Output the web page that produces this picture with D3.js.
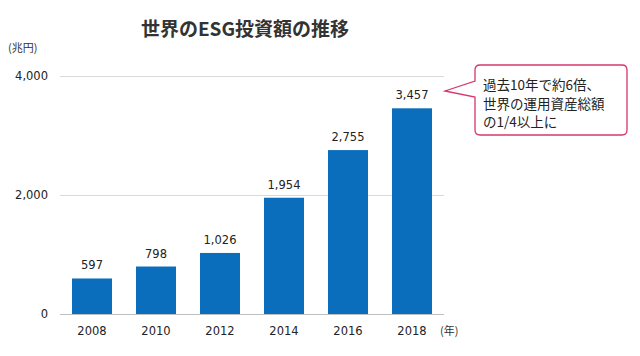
<!DOCTYPE html>
<html><head><meta charset="utf-8">
<script src="https://cdn.jsdelivr.net/npm/d3@7"></script>
<style>body{margin:0;background:#fff}svg{display:block;font-family:"Noto Sans CJK JP","Noto Sans",sans-serif}</style>
</head><body><svg id="c" width="640" height="356"></svg>
<script>
const years = ["2008","2010","2012","2014","2016","2018"];
const values = [597, 798, 1026, 1954, 2755, 3457];
const yTicks = [0, 2000, 4000];
const title = "世界のESG投資額の推移";
const calloutLines = ["過去10年で約6倍、","世界の運用資産総額","の1/4以上に"];

const svg = d3.select("#c");
const numFont = "'DejaVu Sans', Verdana, sans-serif";
const x = d3.scaleBand().domain(years).range([60, 444]).paddingInner(0.375).paddingOuter(0.1875);
const y = d3.scaleLinear().domain([0, 4000]).range([314, 76]);
const fmt = d3.format(",");

svg.append("text").attr("x", 245).attr("y", 36).attr("text-anchor", "middle")
  .attr("font-size", 19).attr("font-weight", "bold").attr("fill", "#333").text(title);
svg.append("text").attr("x", 8).attr("y", 52).attr("font-size", 11).attr("fill", "#333").text("(兆円)");

svg.append("g").selectAll("line").data(yTicks.filter(d => d > 0)).join("line")
  .attr("x1", 60).attr("x2", 444).attr("y1", d => y(d) + 0.5).attr("y2", d => y(d) + 0.5)
  .attr("stroke", "#d9d9d9").attr("stroke-width", 1);

svg.append("g").selectAll("text").data(yTicks).join("text")
  .attr("x", 48).attr("y", d => y(d) + 4).attr("text-anchor", "end")
  .attr("font-size", 11.5).attr("fill", "#222").attr("font-family", numFont)
  .text(d => fmt(d));

svg.append("g").selectAll("rect").data(values).join("rect")
  .attr("x", (d, i) => x(years[i])).attr("width", x.bandwidth())
  .attr("y", d => y(d)).attr("height", d => y(0) - y(d)).attr("fill", "#0a6ebd");

svg.append("line").attr("x1", 60).attr("x2", 444).attr("y1", 314.5).attr("y2", 314.5)
  .attr("stroke", "#bfbfbf");

svg.append("g").selectAll("text").data(values).join("text")
  .attr("x", (d, i) => x(years[i]) + x.bandwidth() / 2).attr("y", d => y(d) - 9)
  .attr("text-anchor", "middle").attr("font-size", 11.5).attr("fill", "#222")
  .attr("font-family", numFont).text(d => fmt(d));

svg.append("g").selectAll("text").data(years).join("text")
  .attr("x", d => x(d) + x.bandwidth() / 2).attr("y", 335).attr("text-anchor", "middle")
  .attr("font-size", 11.5).attr("fill", "#222").attr("font-family", numFont).text(d => d);
svg.append("text").attr("x", 440).attr("y", 335).attr("font-size", 11).attr("fill", "#333").text("(年)");

// callout
const bx = 475, by = 65, bw = 152, bh = 70, r = 5;
const path = `M${bx + r},${by} H${bx + bw - r} Q${bx + bw},${by} ${bx + bw},${by + r} V${by + bh - r} Q${bx + bw},${by + bh} ${bx + bw - r},${by + bh} H${bx + r} Q${bx},${by + bh} ${bx},${by + bh - r} V${by + 32} L445,${by + 26} L${bx},${by + 16} V${by + r} Q${bx},${by} ${bx + r},${by} Z`;
svg.append("path").attr("d", path).attr("fill", "#fff").attr("stroke", "#d6376e").attr("stroke-width", 1.3);
svg.append("g").selectAll("text").data(calloutLines).join("text")
  .attr("x", 483).attr("y", (d, i) => 90 + i * 18.5).attr("font-size", 13.5).attr("fill", "#222").text(d => d);
</script></body></html>
